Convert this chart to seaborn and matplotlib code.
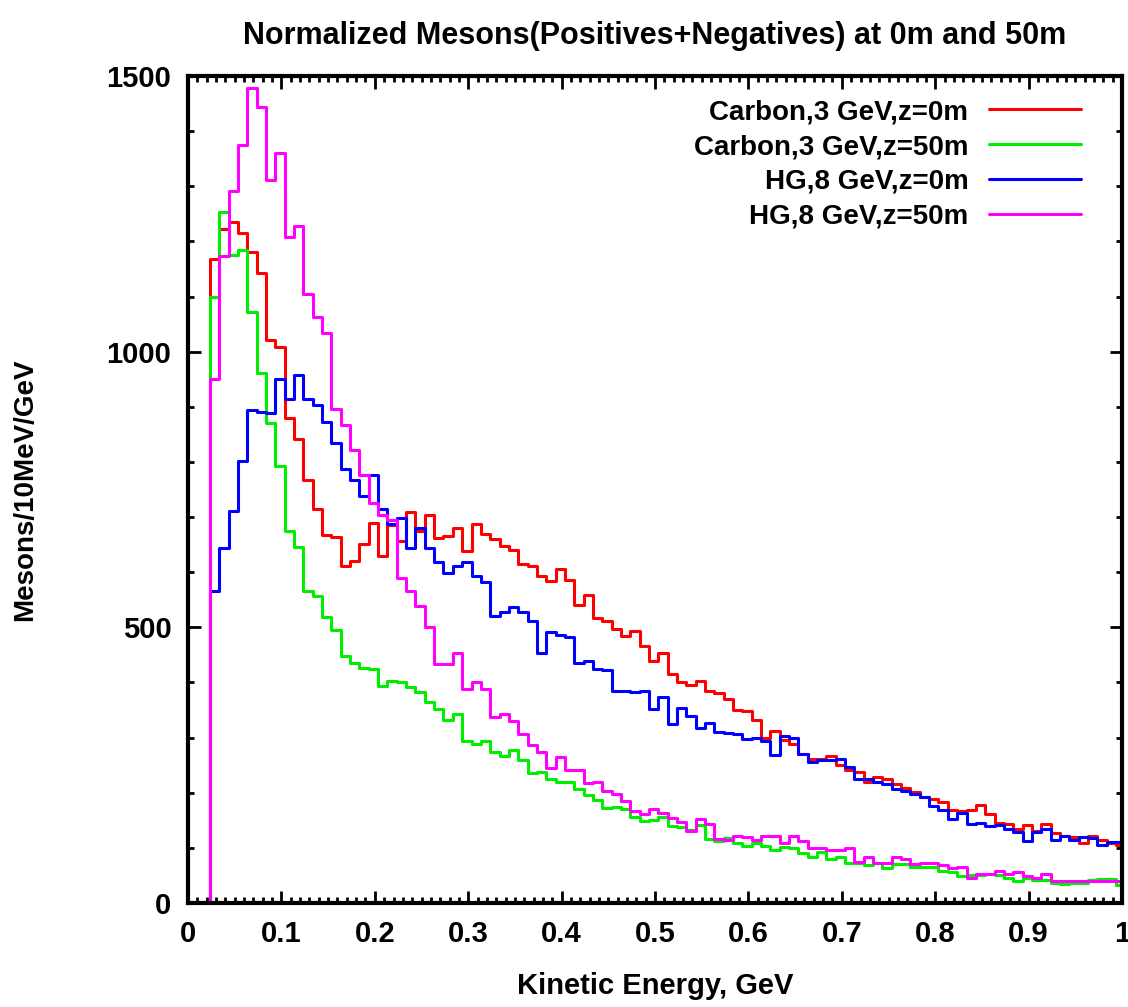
import matplotlib
matplotlib.use("Agg")
import matplotlib.pyplot as plt
import numpy as np
import pandas as pd
import seaborn as sns

# 10 MeV bins, first bin starts at the left edge
bin_start = 0.0235
bin_width = 0.01

carbon_0m = [
    1169, 1223, 1236, 1216, 1181, 1143, 1022, 1009, 879, 842,
    768, 714, 668, 664, 611, 620, 652, 690, 630, 685,
    656, 710, 675, 703, 662, 665, 681, 638, 688, 669,
    660, 648, 641, 614, 612, 593, 584, 605, 585, 541,
    559, 517, 511, 497, 485, 494, 467, 439, 453, 416,
    400, 396, 403, 384, 380, 370, 350, 348, 332, 300,
    312, 295, 289, 271, 262, 262, 266, 250, 241, 238,
    219, 228, 225, 215, 208, 201, 193, 189, 183, 169,
    167, 169, 177, 162, 145, 143, 135, 141, 131, 144,
    127, 121, 119, 108, 121, 115, 109, 105,
]
carbon_50m = [
    1099, 1253, 1176, 1184, 1072, 962, 870, 792, 675, 646,
    566, 557, 518, 495, 448, 436, 426, 424, 394, 402,
    400, 392, 382, 364, 352, 332, 342, 294, 289, 294,
    274, 266, 277, 260, 236, 237, 225, 219, 219, 207,
    195, 187, 173, 174, 171, 156, 149, 151, 156, 139,
    138, 133, 141, 116, 113, 117, 109, 103, 108, 103,
    96, 101, 99, 90, 84, 93, 79, 83, 72, 72,
    69, 72, 64, 71, 70, 66, 66, 66, 58, 57,
    49, 51, 51, 52, 51, 45, 39, 46, 42, 42,
    36, 34, 37, 36, 42, 43, 43, 32,
]
hg_0m = [
    565, 643, 711, 801, 895, 891, 888, 951, 914, 958,
    914, 904, 873, 834, 788, 768, 739, 776, 714, 687,
    699, 644, 681, 644, 618, 599, 611, 618, 593, 583,
    520, 527, 537, 528, 512, 454, 492, 486, 482, 436,
    439, 424, 423, 384, 384, 382, 385, 352, 373, 324,
    354, 340, 318, 327, 311, 308, 307, 298, 300, 294,
    269, 302, 300, 271, 256, 260, 260, 262, 247, 225,
    225, 219, 215, 207, 203, 197, 192, 175, 168, 153,
    163, 143, 145, 139, 141, 135, 129, 113, 129, 135,
    114, 121, 114, 120, 117, 105, 111, 111,
]
hg_50m = [
    950, 1174, 1291, 1374, 1479, 1444, 1311, 1361, 1208, 1228,
    1105, 1062, 1034, 896, 867, 822, 776, 726, 703, 694,
    590, 565, 538, 501, 433, 433, 453, 388, 400, 388,
    337, 343, 330, 306, 286, 274, 245, 265, 242, 242,
    218, 219, 203, 198, 185, 167, 162, 171, 163, 155,
    147, 131, 153, 144, 116, 115, 121, 119, 115, 121,
    121, 108, 121, 113, 99, 99, 96, 97, 99, 75,
    84, 72, 72, 84, 80, 70, 72, 72, 69, 63,
    66, 46, 52, 52, 58, 52, 57, 49, 46, 52,
    40, 39, 39, 39, 39, 39, 39, 39,
]

series_names = [
    "Carbon,3 GeV,z=0m",
    "Carbon,3 GeV,z=50m",
    "HG,8 GeV,z=0m",
    "HG,8 GeV,z=50m",
]
series_values = [carbon_0m, carbon_50m, hg_0m, hg_50m]
series_colors = ["#ff0000", "#00ee00", "#0000ff", "#ff00ff"]

xtick_values = [0, 0.1, 0.2, 0.3, 0.4, 0.5, 0.6, 0.7, 0.8, 0.9, 1.0]
xtick_labels = ["0", "0.1", "0.2", "0.3", "0.4", "0.5", "0.6", "0.7", "0.8", "0.9", "1"]
ytick_values = [0, 500, 1000, 1500]
ytick_labels = ["0", "500", "1000", "1500"]

# long-form table: each histogram starts from zero at its left edge
rows = []
for name, vals in zip(series_names, series_values):
    edges = bin_start + bin_width * np.arange(len(vals) + 1)
    rows.append({"energy": edges[0], "count": 0.0, "sample": name})
    for e, v in zip(edges[:-1], vals):
        rows.append({"energy": e, "count": v, "sample": name})
    rows.append({"energy": edges[-1], "count": vals[-1], "sample": name})
df = pd.DataFrame(rows)

sns.set_theme(style="ticks")
plt.rcParams["font.family"] = ["Liberation Sans", "DejaVu Sans"]
plt.rcParams["font.weight"] = "bold"
plt.rcParams["text.color"] = "black"
plt.rcParams["axes.labelcolor"] = "black"

fig = plt.figure(figsize=(11.28, 10.07), dpi=100)
ax = fig.add_axes([0.1667, 0.1033, 0.828, 0.8212])

sns.lineplot(
    data=df, x="energy", y="count", hue="sample",
    hue_order=series_names, palette=series_colors,
    estimator=None, sort=False, drawstyle="steps-post",
    linewidth=2.2, ax=ax,
)

ax.set_xlim(0, 1)
ax.set_ylim(0, 1500)
ax.set_xticks(xtick_values)
ax.set_xticklabels(xtick_labels)
ax.set_yticks(ytick_values)
ax.set_yticklabels(ytick_labels)
ax.xaxis.set_minor_locator(matplotlib.ticker.MultipleLocator(0.01))
ax.yaxis.set_minor_locator(matplotlib.ticker.MultipleLocator(100))
ax.tick_params(which="both", direction="in", top=True, right=True,
               width=2, colors="black")
ax.tick_params(which="major", length=9, labelsize=21, pad=12)
ax.tick_params(which="minor", length=4)
for sp in ax.spines.values():
    sp.set_linewidth(3)
    sp.set_color("black")

ax.set_xlabel("Kinetic Energy, GeV", fontsize=21, fontweight="bold", color="black")
ax.xaxis.set_label_coords(0.5, -0.084)
ax.set_ylabel("Mesons/10MeV/GeV", fontsize=20, fontweight="bold", color="black")
ax.yaxis.set_label_coords(-0.16, 0.5)
ax.set_title("Normalized Mesons(Positives+Negatives) at 0m and 50m",
             fontsize=22, fontweight="bold", color="black", pad=23)

sns.move_legend(
    ax, "upper right", bbox_to_anchor=(0.956, 0.972), frameon=False,
    title=None, markerfirst=False, fontsize=20, handlelength=3.3,
    handletextpad=0.75, labelspacing=0.32, borderpad=0, borderaxespad=0,
)
for text in ax.get_legend().get_texts():
    text.set_color("black")
for line in ax.get_legend().get_lines():
    line.set_linewidth(2.2)

fig.savefig("out.png", dpi=100)
